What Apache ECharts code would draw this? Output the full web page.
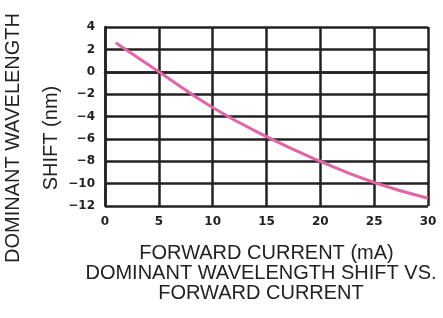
<!DOCTYPE html>
<html>
<head>
<meta charset="utf-8">
<script src="https://cdn.jsdelivr.net/npm/echarts@6/dist/echarts.min.js"></script>
<style>
  html, body { margin: 0; padding: 0; background: #fff; }
  #chart { width: 443px; height: 318px; }
</style>
</head>
<body>
<div id="chart"></div>
<script>
// forward current (mA) vs dominant wavelength shift (nm)
const current = [1, 5, 10, 15, 20, 25, 30]
const shift = [2.6, 0, -3.2, -5.8, -8, -9.9, -11.3]

const xTicks = [0, 5, 10, 15, 20, 25, 30]
const yTicks = [-12, -10, -8, -6, -4, -2, 0, 2, 4]

const ink = '#222'
const tickFont = 'DejaVu Sans'
const textFont = 'Liberation Sans'
const textSize = 20

const chart = echarts.init(document.getElementById('chart'))

chart.setOption({
  backgroundColor: '#fff',
  animation: false,
  grid: {
    left: 105,
    right: 15,
    top: 27,
    bottom: 112
  },
  title: {
    text: 'DOMINANT WAVELENGTH SHIFT VS.\nFORWARD CURRENT',
    left: 261,
    top: 263,
    padding: 0,
    textAlign: 'center',
    textStyle: {
      fontFamily: textFont,
      fontWeight: 'normal',
      fontSize: textSize,
      lineHeight: 20,
      color: ink
    }
  },
  graphic: [
    {
      type: 'text',
      x: 13,
      y: 138,
      rotation: Math.PI / 2,
      style: {
        text: 'DOMINANT WAVELENGTH',
        fontFamily: textFont,
        fontSize: textSize,
        fill: ink,
        align: 'center',
        verticalAlign: 'middle'
      }
    },
    {
      type: 'text',
      x: 51,
      y: 138,
      rotation: Math.PI / 2,
      style: {
        text: 'SHIFT (nm)',
        fontFamily: textFont,
        fontSize: textSize,
        fill: ink,
        align: 'center',
        verticalAlign: 'middle'
      }
    }
  ],
  xAxis: {
    type: 'value',
    min: xTicks[0],
    max: xTicks[xTicks.length - 1],
    interval: 5,
    name: 'FORWARD CURRENT (mA)',
    nameLocation: 'middle',
    nameGap: 37,
    nameTextStyle: {
      fontFamily: textFont,
      fontSize: textSize,
      color: ink
    },
    axisLine: { lineStyle: { color: ink, width: 2.5 } },
    axisTick: { show: false },
    axisLabel: {
      margin: 10,
      fontFamily: tickFont,
      fontWeight: 'bold',
      fontSize: 12,
      color: ink
    },
    splitLine: { show: true, lineStyle: { color: ink, width: 2.5 } }
  },
  yAxis: {
    type: 'value',
    min: yTicks[0],
    max: yTicks[yTicks.length - 1],
    interval: 2,
    axisLine: { show: true, lineStyle: { color: ink, width: 2.5 } },
    axisTick: { show: false },
    axisLabel: {
      margin: 10,
      fontFamily: tickFont,
      fontWeight: 'bold',
      fontSize: 12,
      color: ink,
      formatter: v => (v < 0 ? '\u2212' + Math.abs(v) : String(v))
    },
    splitLine: { show: true, lineStyle: { color: ink, width: 2.5 } }
  },
  series: [{
    type: 'line',
    smooth: true,
    symbol: 'none',
    lineStyle: { color: '#e066a6', width: 3 },
    data: current.map((c, i) => [c, shift[i]])
  }]
})
</script>
</body>
</html>
